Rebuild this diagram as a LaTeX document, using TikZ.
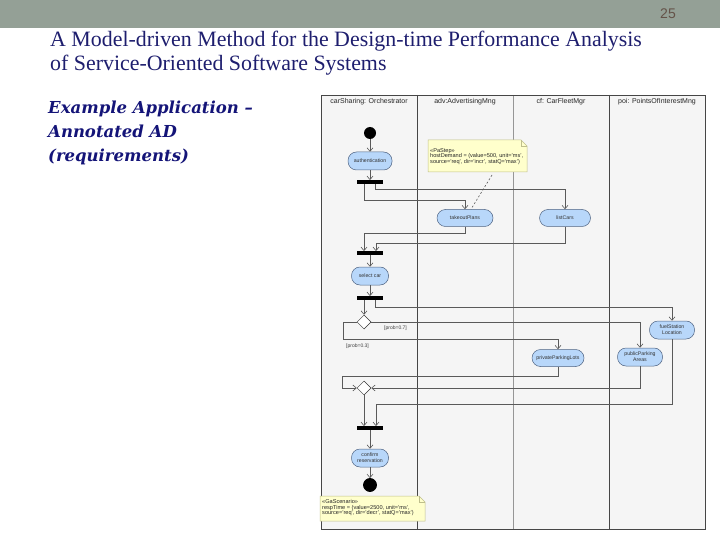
\documentclass[tikz,border=0pt]{standalone}
\usepackage{fontspec}
\setmainfont{Liberation Serif}
\setsansfont{Liberation Sans}
\newfontfamily\subfont{DejaVu Serif}
\usetikzlibrary{arrows.meta,shapes.geometric,calc}
\definecolor{hdr}{RGB}{148,160,150}
\definecolor{pgnum}{RGB}{100,82,72}
\definecolor{navy}{RGB}{30,30,110}
\definecolor{subnavy}{RGB}{20,20,120}
\definecolor{lanebg}{RGB}{245,245,245}
\definecolor{lanec}{RGB}{70,70,70}
\definecolor{lanelight}{RGB}{150,150,150}
\definecolor{actfill}{RGB}{184,215,250}
\definecolor{actdraw}{RGB}{80,100,130}
\definecolor{notefill}{RGB}{255,255,204}
\definecolor{notedraw}{RGB}{190,190,140}
\definecolor{flowc}{RGB}{90,90,90}
\tikzset{
  action/.style={rectangle, rounded corners=8.5pt, draw=actdraw, fill=actfill, line width=0.5pt,
    inner sep=0pt, align=center, font=\sffamily\fontsize{5.2}{5.8}\selectfont, text=black!80},
  bar/.style={rectangle, fill=black, minimum width=26pt, minimum height=3.5pt, inner sep=0pt},
  decision/.style={diamond, draw=black!80, fill=white, line width=0.5pt, minimum size=14pt, inner sep=0pt, aspect=1},
  flow/.style={draw=flowc, line width=0.6pt, -{Straight Barb[length=3.5pt,width=6pt]}},
  line/.style={draw=flowc, line width=0.6pt},
  lanehead/.style={font=\sffamily\fontsize{7}{8}\selectfont, text=black!85},
  guard/.style={font=\sffamily\fontsize{5}{6}\selectfont, text=black!75, inner sep=0pt},
  notetext/.style={font=\sffamily\fontsize{5.6}{5.6}\selectfont, text=black!85, align=left, inner sep=0pt},
  notebox/.style={draw=notedraw, fill=notefill, line width=0.5pt},
}
\begin{document}
\begin{tikzpicture}[x=1pt,y=-1pt]
\useasboundingbox (0,0) rectangle (720,540);
% header bar
\fill[hdr] (0,0) rectangle (720,28);
\node[font=\sffamily\fontsize{14}{16}\selectfont, text=pgnum, anchor=base] (pgno) at (668,19) {25};
% titles
\node[anchor=base west, inner sep=0pt, text=navy, font=\fontsize{21.9}{24}\selectfont] (title1) at (50,47) {A Model-driven Method for the Design-time Performance Analysis};
\node[anchor=base west, inner sep=0pt, text=navy, font=\fontsize{21.9}{24}\selectfont] (title2) at (50,71) {of Service-Oriented Software Systems};
\node[anchor=base west, inner sep=0pt, text=subnavy, font=\subfont\bfseries\itshape\fontsize{16.5}{24}\selectfont] (sub1) at (48,114) {Example Application –};
\node[anchor=base west, inner sep=0pt, text=subnavy, font=\subfont\bfseries\itshape\fontsize{16.5}{24}\selectfont] (sub2) at (48,138) {Annotated AD};
\node[anchor=base west, inner sep=0pt, text=subnavy, font=\subfont\bfseries\itshape\fontsize{16.5}{24}\selectfont] (sub3) at (48,162) {(requirements)};
% diagram frame and lanes
\fill[lanebg] (321,95) rectangle (705,529);
\draw[lanec, line width=0.7pt] (417,95) -- (417,529);
\draw[lanelight, line width=0.7pt] (513,95) -- (513,529);
\draw[lanec, line width=0.7pt] (609,95) -- (609,529);
\draw[lanec, line width=0.7pt] (321,95) rectangle (705,529);
\node[lanehead] (lh1) at (369,102) {carSharing: Orchestrator};
\node[lanehead] (lh2) at (465,102) {adv:AdvertisingMng};
\node[lanehead] (lh3) at (561,102) {cf: CarFleetMgr};
\node[lanehead] (lh4) at (657,102) {poi: PointsOfInterestMng};
% notes
\path[notebox] (428,140) -- (521,140) -- (527,146) -- (527,172) -- (428,172) -- cycle;
\draw[notedraw, line width=0.5pt] (521,140) -- (521,146) -- (527,146);
\node[notetext, anchor=north west] (note1) at (430,148) {<<PaStep>>\\hostDemand = (value=500, unit='ms',\\source='req', dir='incr', statQ='max')};
\path[notebox] (320,496) -- (419,496) -- (425,502) -- (425,521) -- (320,521) -- cycle;
\draw[notedraw, line width=0.5pt] (419,496) -- (419,502) -- (425,502);
\node[notetext, anchor=north west] (note2) at (322,499.5) {<<GaScenario>>\\respTime = (value=2500, unit='ms',\\source='req', dir='decr', statQ='max')};
\coordinate (note1b) at (492,175);
% nodes
\node[circle, fill=black, minimum size=12pt, inner sep=0pt] (init) at (370,133) {};
\node[action, minimum width=44pt, minimum height=18pt] (auth) at (370,161) {authentication};
\node[bar] (fork1) at (370,182) {};
\node[action, minimum width=56pt, minimum height=17pt] (take) at (465,218) {takeoutPlans};
\node[action, minimum width=51pt, minimum height=17pt] (list) at (565,218) {listCars};
\node[bar] (fork2) at (370,253) {};
\node[action, minimum width=37pt, minimum height=18pt] (sel) at (370,276) {select car};
\node[bar] (fork3) at (370,298) {};
\node[decision] (dec) at (364,322) {};
\node[action, minimum width=45pt, minimum height=18pt] (fuel) at (672,330) {fuelStation\\Location};
\node[action, minimum width=45pt, minimum height=18pt] (pub) at (640,357) {publicParking\\Areas};
\node[action, minimum width=52pt, minimum height=17pt] (priv) at (558,358) {privateParkingLots};
\node[decision] (merge) at (364,388) {};
\node[bar] (join) at (370,428) {};
\node[action, minimum width=37pt, minimum height=18pt] (conf) at (370,458) {confirm\\reservation};
\node[circle, draw=black, fill=black, line width=0.8pt, minimum size=13pt, inner sep=0pt] (final) at (370,485) {};
\node[guard, anchor=west] (p07) at (384,328) {[prob=0.7]};
\node[guard, anchor=west] (p03) at (346,346) {[prob=0.3]};
\coordinate (cpriv) at (342,376);
% connectors
\draw[flow] (init) -- (auth);
\draw[flow] (auth) -- (fork1);
\draw[flow] ([xshift=-6pt]fork1.south) -- ++(0,16) -| (take.north);
\draw[flow] ([xshift=5pt]fork1.south) -- ++(0,5) -| (list.north);
\draw[line, dash pattern=on 2pt off 2pt] (note1b) -- ([xshift=6pt]take.north);
\draw[flow] (take.south) -- ++(0,7) -| ([xshift=-6pt]fork2.north);
\draw[flow] (list.south) -- ++(0,16.5) -| ([xshift=6pt]fork2.north);
\draw[flow] (fork2) -- (sel);
\draw[flow] (sel) -- (fork3);
\draw[flow] ([xshift=-6pt]fork3.south) -- (dec.north);
\draw[flow] ([xshift=5pt]fork3.south) -- ++(0,7) -| (fuel.north);
\draw[flow] (dec.east) -| (pub.north);
\draw[flow] (dec.west) -- ++(-13,0) -- ++(0,17) -| (priv.north);
\draw[flow] (priv.south) |- (cpriv) |- (merge.west);
\draw[flow] (pub.south) |- (merge.east);
\draw[flow] (fuel.south) -- ++(0,65) -| ([xshift=6pt]join.north);
\draw[flow] (merge.south) -- ([xshift=-6pt]join.north);
\draw[flow] (join) -- (conf);
\draw[flow] (conf) -- (final);
\end{tikzpicture}
\end{document}
